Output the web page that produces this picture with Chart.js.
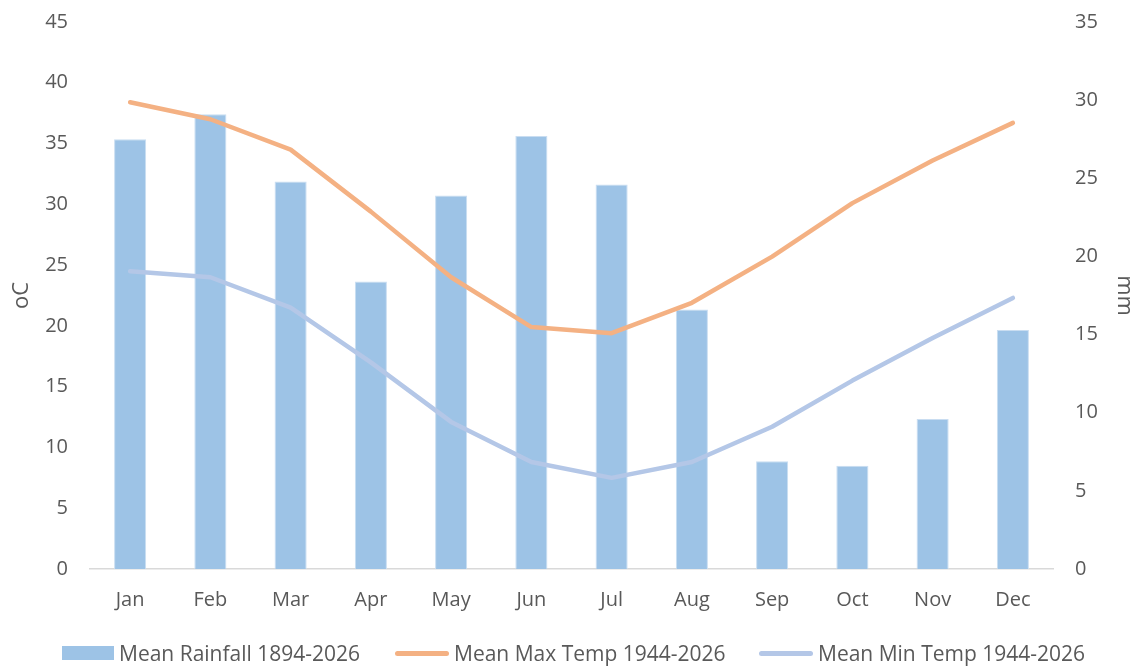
<!DOCTYPE html>
<html>
<head>
<meta charset="utf-8">
<script src="https://cdn.jsdelivr.net/npm/chart.js@4.4.1/dist/chart.umd.min.js"></script>
<style>
  html, body { margin: 0; padding: 0; background: #fff; }
  #wrap { position: relative; width: 1137px; height: 666px; }
  #legend { position: absolute; left: 0; top: 639px; width: 1137px; height: 28px;
            font-family: "Open Sans", sans-serif; font-size: 21px; color: #595959; }
  .item { position: absolute; top: 0; display: flex; align-items: center; height: 28px; white-space: nowrap; }
  .sw { display: inline-block; margin-right: 5px; }
</style>
</head>
<body>
<div id="wrap">
  <canvas id="c" width="1137" height="666"></canvas>
  <div id="legend"></div>
</div>
<script>
const categories = ["Jan","Feb","Mar","Apr","May","Jun","Jul","Aug","Sep","Oct","Nov","Dec"];
const rainfall = [27.5, 29.1, 24.8, 18.4, 23.9, 27.7, 24.6, 16.6, 6.9, 6.6, 9.6, 15.3];
const maxTemp = [38.4, 37.0, 34.5, 29.4, 24.0, 19.9, 19.4, 21.9, 25.7, 30.1, 33.6, 36.7];
const minTemp = [24.5, 24.0, 21.5, 17.0, 12.1, 8.8, 7.5, 8.8, 11.7, 15.5, 19.0, 22.3];
const seriesNames = ["Mean Rainfall 1894-2026", "Mean Max Temp 1944-2026", "Mean Min Temp 1944-2026"];
const leftTicks = [0, 5, 10, 15, 20, 25, 30, 35, 40, 45];
const rightTicks = [0, 5, 10, 15, 20, 25, 30, 35];

const colors = { rain: "#9DC3E6", max: "#F4B183", min: "#B4C7E7" };
const txt = "#595959";
const FONT = "'Open Sans', sans-serif";

const chart = new Chart(document.getElementById("c"), {
  data: {
    labels: categories,
    datasets: [
      { type: "line", label: seriesNames[1], data: maxTemp, yAxisID: "yL",
        borderColor: colors.max, backgroundColor: colors.max, borderWidth: 4.5,
        pointRadius: 0, tension: 0, borderCapStyle: "round", borderJoinStyle: "round", order: 1 },
      { type: "line", label: seriesNames[2], data: minTemp, yAxisID: "yL",
        borderColor: colors.min, backgroundColor: colors.min, borderWidth: 4.5,
        pointRadius: 0, tension: 0, borderCapStyle: "round", borderJoinStyle: "round", order: 1 },
      { type: "bar", label: seriesNames[0], data: rainfall, yAxisID: "yR",
        backgroundColor: colors.rain, borderColor: "#C9DDF1", borderWidth: 1,
        barPercentage: 0.4, categoryPercentage: 1.0, order: 2 }
    ]
  },
  options: {
    responsive: false,
    animation: false,
    layout: { padding: { top: 22, bottom: 55, left: 0, right: 0 } },
    plugins: { legend: { display: false }, tooltip: { enabled: false } },
    scales: {
      x: {
        grid: { display: false, drawTicks: false },
        border: { display: true, color: "#D9D9D9", width: 1.5 },
        ticks: { color: txt, font: { family: FONT, size: 20 }, padding: 19 },
        afterFit(s) { s.height = 42; }
      },
      yL: {
        position: "left", min: 0, max: 45,
        afterBuildTicks(s) { s.ticks = leftTicks.map(v => ({ value: v })); },
        grid: { display: false, drawTicks: false },
        border: { display: false },
        ticks: { color: txt, font: { family: FONT, size: 20 }, padding: 22 },
        title: { display: true, text: "oC", color: txt, font: { family: FONT, size: 22 }, padding: { top: 9, bottom: 0 } },
        afterFit(s) { s.width = 90; s.paddingTop = 0; s.paddingBottom = 0; }
      },
      yR: {
        position: "right", min: 0, max: 35,
        afterBuildTicks(s) { s.ticks = rightTicks.map(v => ({ value: v })); },
        grid: { display: false, drawTicks: false },
        border: { display: false },
        ticks: { color: txt, font: { family: FONT, size: 20 }, padding: 22 },
        title: { display: true, text: "mm", color: txt, font: { family: FONT, size: 22 }, padding: { top: 0, bottom: 0 } },
        afterFit(s) { s.width = 84; s.paddingTop = 0; s.paddingBottom = 0; }
      }
    }
  }
});

// HTML legend
const legend = document.getElementById("legend");
const items = [
  { name: seriesNames[0], color: colors.rain, kind: "box", left: 62 },
  { name: seriesNames[1], color: colors.max, kind: "line", left: 395 },
  { name: seriesNames[2], color: colors.min, kind: "line", left: 759 }
];
items.forEach(it => {
  const d = document.createElement("div");
  d.className = "item";
  d.style.left = it.left + "px";
  const sw = document.createElement("span");
  sw.className = "sw";
  sw.style.width = (it.kind === "box" ? 52 : 54) + "px";
  sw.style.height = (it.kind === "box" ? 14 : 5) + "px";
  sw.style.background = it.color;
  if (it.kind === "line") sw.style.borderRadius = "3px";
  d.appendChild(sw);
  const t = document.createElement("span");
  t.textContent = it.name;
  d.appendChild(t);
  legend.appendChild(d);
});
</script>
</body>
</html>
